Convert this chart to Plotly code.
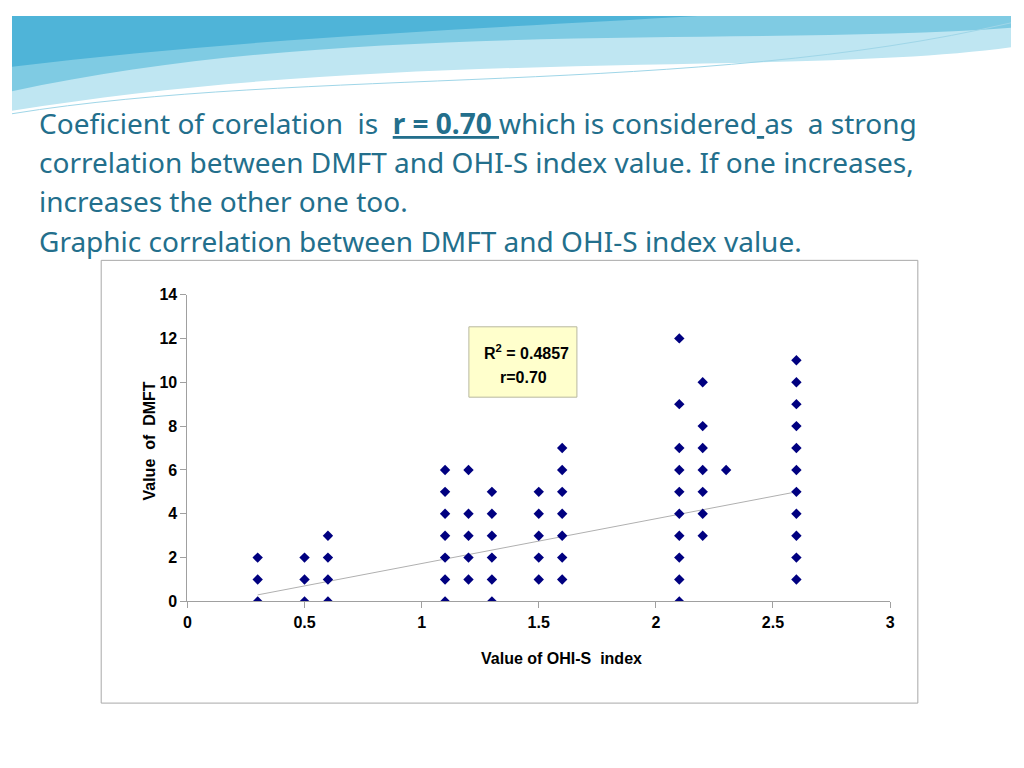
import numpy as np
import plotly.graph_objects as go

groups_x = [0.3, 0.5, 0.6, 1.1, 1.2, 1.3, 1.5, 1.6, 2.1, 2.2, 2.3, 2.6]
groups_y = [
    [0, 1, 2],
    [0, 1, 2],
    [0, 1, 2, 3],
    [0, 1, 2, 3, 4, 5, 6],
    [1, 2, 3, 4, 6],
    [0, 1, 2, 3, 4, 5],
    [1, 2, 3, 4, 5],
    [1, 2, 3, 4, 5, 6, 7],
    [0, 1, 2, 3, 4, 5, 6, 7, 9, 12],
    [3, 4, 5, 6, 7, 8, 10],
    [6],
    [1, 2, 3, 4, 5, 6, 7, 8, 9, 10, 11],
]
trend_x = [0.3, 2.6]
trend_y = [0.3, 5.0]
x_ticks = [0, 0.5, 1, 1.5, 2, 2.5, 3]
y_ticks = [0, 2, 4, 6, 8, 10, 12, 14]

xs = [gx for gx, ys in zip(groups_x, groups_y) for _ in ys]
ys = [v for g in groups_y for v in g]

W, H = 1008, 752
OFF = 8
def px(x): return (x - OFF) / W
def py(y): return 1 - (y - OFF) / H

fig = go.Figure()
fig.add_trace(go.Scatter(x=trend_x, y=trend_y, mode="lines",
                         line=dict(color="#b0b0b0", width=1), hoverinfo="skip"))
fig.add_trace(go.Scatter(x=xs, y=ys, mode="markers",
                         marker=dict(symbol="diamond", color="#000080", size=8)))

tickfont = dict(family="Liberation Sans, Arial", size=16, color="black")
fig.update_layout(
    width=W, height=H, margin=dict(l=0, r=0, t=0, b=0),
    paper_bgcolor="white", plot_bgcolor="white", showlegend=False,
    xaxis=dict(domain=[px(185), px(894)], range=[0, 3], tickvals=x_ticks,
               ticktext=[f"<b>{t}</b>" for t in x_ticks], showgrid=False, zeroline=False,
               showline=True, linecolor="#a0a0a0", ticks="outside", tickcolor="#a0a0a0",
               ticklen=6, tickfont=tickfont, anchor="y"),
    yaxis=dict(domain=[py(607), py(293)], range=[0, 14], tickvals=y_ticks,
               ticktext=[f"<b>{t}</b>" for t in y_ticks],
               showgrid=False, zeroline=False, showline=True, linecolor="#a0a0a0",
               ticks="outside", tickcolor="#a0a0a0", ticklen=6, tickfont=tickfont,
               anchor="x"),
)

shapes = [
    dict(type="rect", xref="paper", yref="paper", x0=px(98), x1=px(922), y0=py(711), y1=py(258),
         line=dict(color="#a8a8a8", width=1), fillcolor="rgba(0,0,0,0)", layer="below"),
    dict(type="rect", xref="paper", yref="paper", x0=px(469), x1=px(578), y0=py(398), y1=py(326),
         line=dict(color="#b8b8a0", width=1), fillcolor="#ffffcc"),
    dict(type="path", xref="paper", yref="paper",
         path=f"M 0 1 L 1 1 L 1 {py(40)} C {px(800)} {py(70)} {px(400)} {py(40)} 0 {py(105)} Z",
         fillcolor="#bfe6f2", line=dict(width=0), layer="below"),
    dict(type="path", xref="paper", yref="paper",
         path=f"M 0 1 L 1 1 L 1 {py(20)} C {px(750)} {py(40)} {px(350)} {py(10)} 0 {py(85)} Z",
         fillcolor="#7fcbe3", line=dict(width=0), layer="below"),
    dict(type="path", xref="paper", yref="paper",
         path=f"M 0 1 L {px(700)} 1 C {px(500)} {py(20)} {px(250)} {py(30)} 0 {py(60)} Z",
         fillcolor="#4fb4d8", line=dict(width=0), layer="below"),
    dict(type="path", xref="paper", yref="paper",
         path=f"M 0 {py(108)} C {px(300)} {py(60)} {px(700)} {py(90)} 1 {py(15)}",
         line=dict(color="#9fd6e8", width=1), layer="below"),
]
fig.update_layout(shapes=shapes)

tc = "#236f8c"
tf = dict(family="Noto Sans, Open Sans", size=28, color=tc)
lines = [
    (117, "Coeficient of corelation  is  <b><u>r = 0.70 </u></b>which is considered<u> </u>as  a strong"),
    (157, "correlation between DMFT and OHI-S index value. If one increases,"),
    (197, "increases the other one too."),
    (238, "Graphic correlation between DMFT and OHI-S index value."),
]
ann = []
for y, t in lines:
    ann.append(dict(x=px(33), y=py(y), xref="paper", yref="paper", text=t, showarrow=False,
                    xanchor="left", yanchor="middle", font=tf))
bf = dict(family="Liberation Sans, Arial", size=16, color="black")
ann += [
    dict(x=px(527), y=py(352), xref="paper", yref="paper", text="<b>R<sup>2</sup> = 0.4857</b>",
         showarrow=False, font=bf),
    dict(x=px(524), y=py(378), xref="paper", yref="paper", text="<b>r=0.70</b>",
         showarrow=False, font=bf),
    dict(x=px(562), y=py(676), xref="paper", yref="paper", text="<b>Value of OHI-S  index</b>",
         showarrow=False, font=bf),
    dict(x=px(136), y=py(443), xref="paper", yref="paper", text="<b>Value  of  DMFT</b>",
         showarrow=False, textangle=-90, font=bf),
]
fig.update_layout(annotations=ann)
fig.write_html("out.html")
